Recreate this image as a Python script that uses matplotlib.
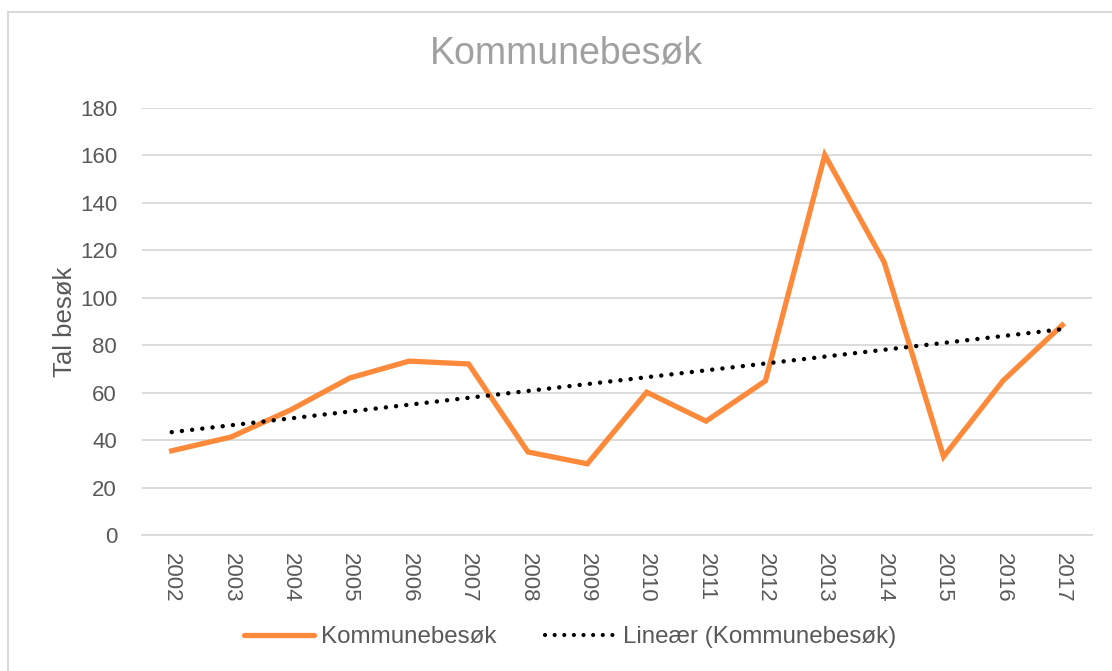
import numpy as np
from matplotlib import pyplot as plt
from matplotlib.lines import Line2D

plt.rcParams['font.family'] = ['Liberation Sans', 'DejaVu Sans']

years = ['2002', '2003', '2004', '2005', '2006', '2007', '2008', '2009',
         '2010', '2011', '2012', '2013', '2014', '2015', '2016', '2017']
besok = [35.5, 41.3, 52.7, 66.2, 73.3, 72.1, 35.0, 30.0,
         60.2, 48.0, 65.0, 160.2, 115.0, 33.0, 65.0, 88.5]
y_ticks = [0, 20, 40, 60, 80, 100, 120, 140, 160, 180]

txt = '#595959'
grid = '#d9d9d9'
orange = '#fd8a3a'

W, H = 1112, 671
fig = plt.figure(figsize=(W / 100, H / 100), dpi=100)
ax = fig.add_axes([142 / W, 1 - 535 / H, (1092 - 142) / W, (535 - 108) / H])

x = np.arange(len(years))
ax.plot(x, besok, color=orange, lw=3.8, solid_joinstyle='miter', zorder=3)

# linear trend line
k, m = np.polyfit(x, besok, 1)
ax.plot(x, k * x + m, color='black', lw=3.2, linestyle=(0, (0.01, 2.3)),
        dash_capstyle='round', zorder=4)

ax.set_xlim(-0.5, len(years) - 0.5)
ax.set_ylim(0, 180)
ax.set_yticks(y_ticks)
ax.set_xticks(x)
ax.set_xticklabels(years, rotation=-90)
ax.tick_params(axis='both', length=0, labelsize=16, labelcolor=txt)
ax.tick_params(axis='y', pad=18)
ax.tick_params(axis='x', pad=13)
ax.grid(axis='y', color=grid, lw=1.3)
ax.set_axisbelow(True)
for s in ['top', 'right', 'left']:
    ax.spines[s].set_visible(False)
ax.spines['bottom'].set_color(grid)
ax.spines['bottom'].set_linewidth(1.3)

ax.set_ylabel('Tal besøk', fontsize=18.5, color=txt, labelpad=2)
fig.text(566 / W, 1 - 53 / H, 'Kommunebesøk', ha='center', va='center',
         fontsize=27, color='#a0a0a0')

handles = [Line2D([], [], color=orange, lw=3.8, solid_capstyle='round'),
           Line2D([], [], color='black', lw=3.0, linestyle=(0, (0.01, 2.3)),
                  dash_capstyle='round')]
fig.legend(handles, ['Kommunebesøk', 'Lineær (Kommunebesøk)'],
           loc='center', bbox_to_anchor=(570 / W, 1 - 637 / H), ncol=2,
           frameon=False, fontsize=17.4, labelcolor=txt, handlelength=2.9,
           handletextpad=0.3, columnspacing=2.0)

# chart border
fig.add_artist(Line2D([8 / W, 1], [1 - 12 / H, 1 - 12 / H], color=grid, lw=1.5))
fig.add_artist(Line2D([8 / W, 8 / W], [0, 1 - 12 / H], color=grid, lw=1.5))

plt.savefig('out.png', dpi=100)
